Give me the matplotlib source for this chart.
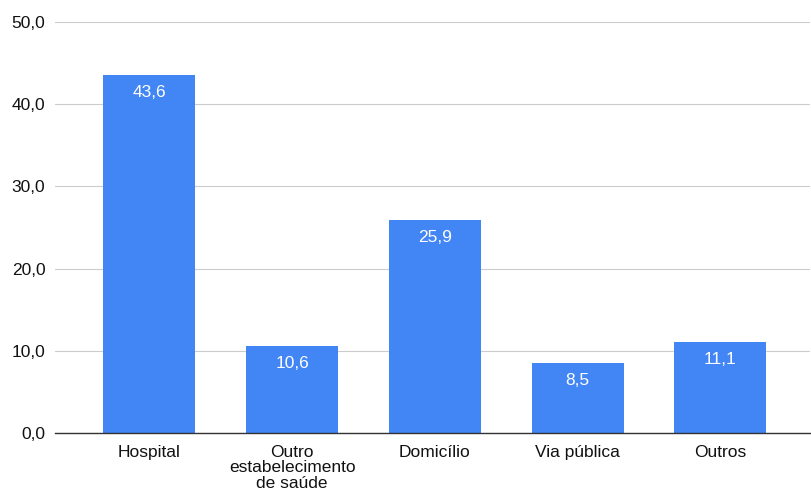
import matplotlib
matplotlib.use("Agg")
import matplotlib.pyplot as plt
from matplotlib.ticker import FuncFormatter

categories = ["Hospital", "Outro\nestabelecimento\nde saúde", "Domicílio", "Via pública", "Outros"]
values = [43.6, 10.6, 25.9, 8.5, 11.1]
yticks = [0, 10, 20, 30, 40, 50]

plt.rcParams['font.family'] = ['Liberation Sans', 'DejaVu Sans']

fig = plt.figure(figsize=(8.11, 4.90), dpi=100)
ax = fig.add_axes([0.068, 0.1163, 0.931, 0.8387])

x = list(range(len(categories)))
bars = ax.bar(x, values, width=0.645, color="#4285F4", zorder=3)

for xi, v in zip(x, values):
    ax.text(xi, v - 1.2, f"{v:.1f}".replace(".", ","), ha="center", va="top",
            color="white", fontsize=12.5, zorder=4)

ax.set_xlim(-0.66, 4.63)
ax.set_ylim(0, 50)
ax.set_yticks(yticks)
ax.yaxis.set_major_formatter(FuncFormatter(lambda v, p: f"{v:.1f}".replace(".", ",")))
ax.set_xticks(x)
ax.set_xticklabels(categories, fontsize=12.5, color="#111111", linespacing=1.05)
ax.tick_params(axis="y", labelsize=12.5, colors="#111111", length=0, pad=7)
ax.tick_params(axis="x", length=0, pad=8.5)
ax.grid(axis="y", color="#cccccc", linewidth=0.8, zorder=0)
for s in ["top", "right", "left"]:
    ax.spines[s].set_visible(False)
ax.spines["bottom"].set_color("#333333")
ax.spines["bottom"].set_linewidth(1.0)
ax.spines["bottom"].set_zorder(5)

fig.savefig("out.png", dpi=100)
